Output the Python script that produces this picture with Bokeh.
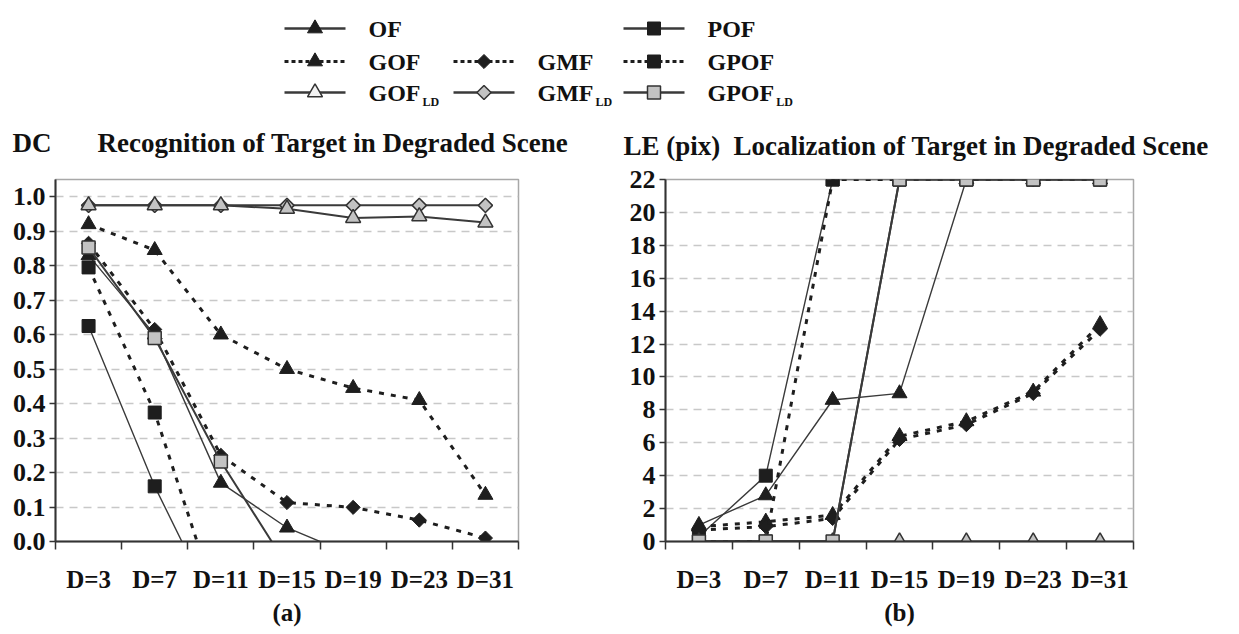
import numpy as np
from bokeh.plotting import figure
from bokeh.layouts import column, row
from bokeh.models import Range1d, FixedTicker, NumeralTickFormatter
from bokeh.embed import file_html
from bokeh.resources import INLINE
from bokeh.core.properties import value

nan = float("nan")

# ---------------- data ----------------
categories = ["D=3", "D=7", "D=11", "D=15", "D=19", "D=23", "D=31"]

# (a) Recognition: discrimination capability DC
dc_OF      = [0.83, 0.60, 0.17, 0.04, -0.04, nan, nan]
dc_POF     = [0.625, 0.16, -0.23, nan, nan, nan, nan]
dc_GOF     = [0.92, 0.845, 0.60, 0.50, 0.445, 0.41, 0.135]
dc_GMF     = [0.865, 0.615, 0.25, 0.113, 0.099, 0.062, 0.01]
dc_GPOF    = [0.795, 0.374, -0.21, nan, nan, nan, nan]
dc_GOF_LD  = [0.975, 0.975, 0.975, 0.965, 0.938, 0.943, 0.925]
dc_GMF_LD  = [0.975, 0.975, 0.975, 0.975, 0.975, 0.975, 0.975]
dc_GPOF_LD = [0.853, 0.59, 0.232, -0.07, nan, nan, nan]

# (b) Localization error LE (pix)
le_OF      = [1.0, 2.8, 8.6, 9.0, 22, 22, 22]
le_POF     = [0.3, 4.0, 22, 22, 22, 22, 22]
le_GOF     = [0.9, 1.2, 1.6, 6.4, 7.3, 9.1, 13.2]
le_GMF     = [0.7, 0.9, 1.4, 6.2, 7.1, 9.0, 12.9]
le_GPOF    = [0, 0, 22, 22, 22, 22, 22]
le_GOF_LD  = [0, 0, 0, 0, 0, 0, 0]
le_GMF_LD  = [0, 0, 0, 22, 22, 22, 22]
le_GPOF_LD = [0, 0, 0, 22, 22, 22, 22]

dc_ticks = [0.0, 0.1, 0.2, 0.3, 0.4, 0.5, 0.6, 0.7, 0.8, 0.9, 1.0]
le_ticks = [0, 2, 4, 6, 8, 10, 12, 14, 16, 18, 20, 22]

titles = ["Recognition of Target in Degraded Scene", "Localization of Target in Degraded Scene"]
ylabels = ["DC", "LE (pix)"]
captions = ["(a)", "(b)"]

order = ["OF", "POF", "GOF", "GMF", "GPOF", "GMF_LD", "GOF_LD", "GPOF_LD"]
dc_data = dict(OF=dc_OF, POF=dc_POF, GOF=dc_GOF, GMF=dc_GMF, GPOF=dc_GPOF,
               GOF_LD=dc_GOF_LD, GMF_LD=dc_GMF_LD, GPOF_LD=dc_GPOF_LD)
le_data = dict(OF=le_OF, POF=le_POF, GOF=le_GOF, GMF=le_GMF, GPOF=le_GPOF,
               GOF_LD=le_GOF_LD, GMF_LD=le_GMF_LD, GPOF_LD=le_GPOF_LD)

# ---------------- styles ----------------
FONT = "Liberation Serif"
DARK = "#1e1e1e"
LINE = "#3a3a3a"
GRAY = "#c3c3c3"
TXT = "#111111"
solid = dict(line_color=LINE, line_width=1.4)
solid_ld = dict(line_color=LINE, line_width=2.0)
dotted = dict(line_color=DARK, line_width=3, line_dash="5 7")
tri_k = dict(marker="triangle", size=15, fill_color=DARK, line_color=DARK)
sq_k = dict(marker="square", size=13, fill_color=DARK, line_color=DARK)
dia_k = dict(marker="square", angle=np.pi / 4, size=10, fill_color=DARK, line_color=DARK)
tri_g = dict(marker="triangle", size=15, fill_color=GRAY, line_color="#333333", line_width=1.5)
sq_g = dict(marker="square", size=13, fill_color=GRAY, line_color="#333333", line_width=1.5)
dia_g = dict(marker="square", angle=np.pi / 4, size=10, fill_color=GRAY, line_color="#333333", line_width=1.5)
styles = {
    "OF": (solid, tri_k), "POF": (solid, sq_k),
    "GOF": (dotted, tri_k), "GMF": (dotted, dia_k), "GPOF": (dotted, sq_k),
    "GOF_LD": (solid_ld, tri_g), "GMF_LD": (solid_ld, dia_g), "GPOF_LD": (solid_ld, sq_g),
}

xs = list(range(1, len(categories) + 1))
W = 1239
H = 634
HEAD_H = 161


def panel(width, height, borders, y_end, yticks, fmt, data, caption):
    left, right, top, bottom = borders
    p = figure(width=width, height=height, toolbar_location=None, output_backend="svg",
               x_range=Range1d(0.5, len(categories) + 0.5), y_range=Range1d(0, y_end),
               min_border_left=left, min_border_right=right, min_border_top=top,
               min_border_bottom=bottom)
    p.background_fill_color = "white"
    p.border_fill_color = "white"
    p.outline_line_color = "#a8a8a8"
    p.outline_line_width = 1.5
    p.xgrid.visible = False
    p.ygrid.ticker = FixedTicker(ticks=yticks)
    p.ygrid.grid_line_color = "#c8c8c8"
    p.ygrid.grid_line_dash = "8 6"
    p.ygrid.grid_line_width = 1.5

    xa = p.xaxis[0]
    xa.ticker = FixedTicker(ticks=xs, minor_ticks=[x - 0.5 for x in xs] + [xs[-1] + 0.5])
    xa.major_label_overrides = {x: c for x, c in zip(xs, categories)}
    xa.major_tick_out = 0
    xa.major_tick_in = 0
    xa.minor_tick_out = 8
    xa.minor_tick_in = 0
    xa.minor_tick_line_color = "#333333"
    xa.minor_tick_line_width = 1.5
    xa.axis_line_color = "#333333"
    xa.axis_line_width = 2
    xa.major_label_standoff = 16
    xa.major_label_text_font = FONT
    xa.major_label_text_font_style = "bold"
    xa.major_label_text_font_size = "25px"
    xa.major_label_text_color = TXT
    xa.axis_label = caption
    xa.axis_label_text_font = FONT
    xa.axis_label_text_font_style = "bold"
    xa.axis_label_text_font_size = "25px"
    xa.axis_label_text_color = TXT
    xa.axis_label_standoff = 3

    ya = p.yaxis[0]
    ya.ticker = FixedTicker(ticks=yticks)
    ya.formatter = NumeralTickFormatter(format=fmt)
    ya.major_tick_out = 6
    ya.major_tick_in = 0
    ya.minor_tick_out = 0
    ya.major_tick_line_color = "#333333"
    ya.major_tick_line_width = 1.5
    ya.axis_line_color = "#333333"
    ya.axis_line_width = 2
    ya.major_label_standoff = 4
    ya.major_label_text_font = FONT
    ya.major_label_text_font_style = "bold"
    ya.major_label_text_font_size = "26px"
    ya.major_label_text_color = TXT

    for name in order:
        lst, mst = styles[name]
        p.line(x=xs, y=data[name], **lst)
        p.scatter(x=xs, y=data[name], **mst)
    return p


# panel (a): frame bottom 541 ; panel (b): frame top 179, bottom 544
pa = panel(620, H - HEAD_H, (55, 102, 0, 93), 1.05, dc_ticks, "0.0", dc_data, captions[0])
pb = panel(619, H - HEAD_H, (45, 106, 179 - HEAD_H, 90), 22, le_ticks, "0", le_data, captions[1])

# ---------------- header: legend + panel headings ----------------
head = figure(width=W, height=HEAD_H, toolbar_location=None, output_backend="svg",
              x_range=Range1d(0, W), y_range=Range1d(HEAD_H, 0),
              x_axis_location=None, y_axis_location=None, min_border=0)
head.grid.visible = False
head.outline_line_color = None
head.background_fill_color = "white"
head.border_fill_color = "white"

legend_entries = [  # name, main text, subscript, column, row
    ("OF", "OF", "", 0, 0), ("POF", "POF", "", 2, 0),
    ("GOF", "GOF", "", 0, 1), ("GMF", "GMF", "", 1, 1), ("GPOF", "GPOF", "", 2, 1),
    ("GOF_LD", "GOF", "LD", 0, 2), ("GMF_LD", "GMF", "LD", 1, 2), ("GPOF_LD", "GPOF", "LD", 2, 2),
]
col_x = [284, 453, 623]
row_y = [28, 61, 92]
seg_len = 61
text_dx = 84
# Times/Liberation Serif Bold advance widths (em)
adv = {"G": 0.778, "O": 0.778, "F": 0.611, "M": 0.944, "P": 0.611}
LEG_FS = 24

for name, main, sub, c, r in legend_entries:
    lst, mst = styles[name]
    x0, y0 = col_x[c], row_y[r]
    lstyle = dict(lst)
    lstyle["line_width"] = 3 if "line_dash" in lst else 2.6
    if "line_dash" in lst:
        lstyle["line_dash"] = "4 3"
    head.line(x=[x0, x0 + seg_len], y=[y0, y0], **lstyle)
    mstyle = dict(mst)
    if name == "GOF_LD":
        mstyle["fill_color"] = "#f2f2f2"
    head.scatter(x=[x0 + seg_len / 2], y=[y0], **mstyle)
    tx = x0 + text_dx
    head.text(x=[tx], y=[y0], text=[main], text_font=value(FONT), text_font_style="bold",
              text_font_size=f"{LEG_FS}px", text_color=TXT, text_baseline="middle")
    if sub:
        w = sum(adv[ch] for ch in main) * LEG_FS
        head.text(x=[tx + w + 2], y=[y0 + 9], text=[sub], text_font=value(FONT),
                  text_font_style="bold", text_font_size="12px", text_color=TXT,
                  text_baseline="middle")

# panel headings: quantity name at left, title to its right
head_x = [12, 97, 623, 733]
head_y = [142, 142, 145, 145]
head_txt = [ylabels[0], titles[0], ylabels[1], titles[1]]
head.text(x=head_x, y=head_y, text=head_txt, text_font=value(FONT), text_font_style="bold",
          text_font_size="27px", text_color=TXT, text_baseline="middle")

layout = column(head, row(pa, pb))
open("out.html", "w").write(file_html(layout, INLINE))
